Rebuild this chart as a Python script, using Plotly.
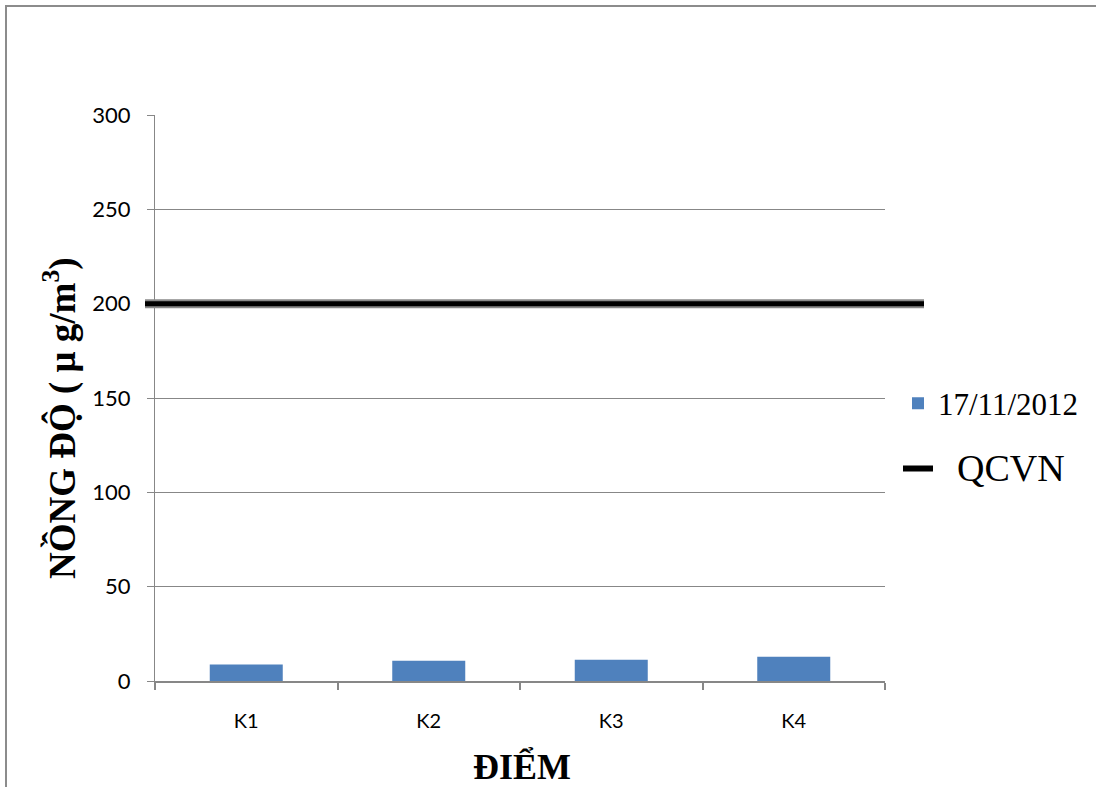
import plotly.graph_objects as go

# Measured concentrations per sampling point
points = ["K1", "K2", "K3", "K4"]
conc_17_11_2012 = [8.8, 10.7, 11.2, 12.8]
qcvn_limit = 200
y_ticks = [0, 50, 100, 150, 200, 250, 300]

W, H = 1096, 787
L, R, T, B = 155, 885, 115, 681  # plot area in pixels


def px_x(p):
    return (p - L) / (R - L)


def px_y(p):
    return (B - p) / (B - T)


serif = "Liberation Serif, Times New Roman, serif"
sans = "Lato, Carlito, Calibri, sans-serif"
grid = "#878787"

fig = go.Figure()

fig.add_trace(go.Bar(
    x=points, y=conc_17_11_2012, name="17/11/2012",
    marker=dict(color="#4F81BD", line=dict(width=0)),
    legendgroup="a",
))

# Legend entry for the regulation limit line
fig.add_trace(go.Scatter(
    x=[None], y=[None], mode="lines",
    name="<span style='font-size:38px'>\u00a0\u00a0QCVN</span>",
    line=dict(color="black", width=6),
    legendgroup="b",
))

# Regulation limit (QCVN) drawn across the chart at its value
fig.add_shape(type="line", xref="paper", yref="y",
              x0=px_x(145), x1=px_x(924), y0=qcvn_limit, y1=qcvn_limit,
              line=dict(color="#8a8a8a", width=9), layer="above")
fig.add_shape(type="line", xref="paper", yref="y",
              x0=px_x(145), x1=px_x(924), y0=qcvn_limit, y1=qcvn_limit,
              line=dict(color="black", width=5), layer="above")

# Outer chart frame
fig.add_shape(type="rect", xref="paper", yref="paper",
              x0=px_x(6), x1=px_x(1110), y0=px_y(800), y1=px_y(6),
              line=dict(color="#8c8c8c", width=2), fillcolor="rgba(0,0,0,0)")

fig.add_annotation(text="<b>ĐIỂM</b>", xref="paper", yref="paper",
                   x=px_x(522), y=px_y(767), showarrow=False,
                   font=dict(family=serif, size=36, color="black"),
                   xanchor="center", yanchor="middle")
fig.add_annotation(text="<b>NỒNG ĐỘ ( μ g/m<sup>3</sup>)</b>", xref="paper", yref="paper",
                   x=px_x(60), y=px_y(418), showarrow=False, textangle=-90,
                   font=dict(family=serif, size=37, color="black"),
                   xanchor="center", yanchor="middle")

fig.update_layout(
    width=W, height=H,
    margin=dict(l=L, r=W - R, t=T, b=H - B, pad=0),
    paper_bgcolor="white", plot_bgcolor="white",
    bargap=0.6,
    showlegend=True,
    legend=dict(
        x=px_x(898), y=px_y(436), xanchor="left", yanchor="middle",
        font=dict(family=serif, size=31, color="black"),
        bgcolor="rgba(0,0,0,0)", tracegroupgap=22,
        traceorder="grouped", itemwidth=30,
    ),
    xaxis=dict(
        showgrid=False, showline=True, linecolor=grid, linewidth=2,
        ticks="outside", tickson="boundaries", ticklen=7, tickcolor=grid,
        tickwidth=2, ticklabelstandoff=21,
        tickfont=dict(family=sans, size=20, color="black"),
    ),
    yaxis=dict(
        range=[0, 300], tickvals=y_ticks,
        showgrid=True, gridcolor=grid, gridwidth=1,
        showline=True, linecolor=grid, linewidth=1,
        ticks="outside", ticklen=7, tickcolor=grid,
        ticklabelstandoff=12, zeroline=False,
        tickfont=dict(family=sans, size=22, color="black"),
    ),
)

fig.write_html("out.html")
